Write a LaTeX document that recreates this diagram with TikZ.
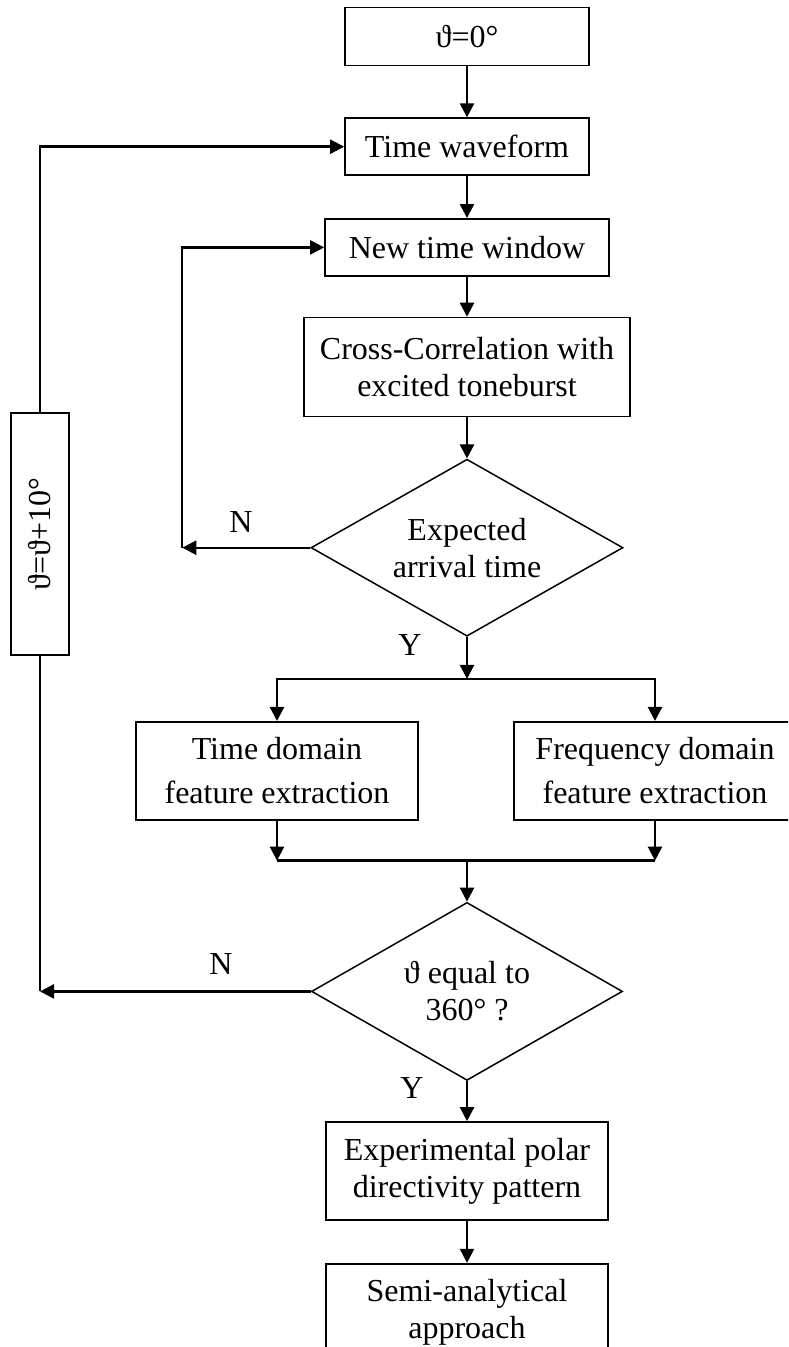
\documentclass[tikz,border=0pt]{standalone}
\usepackage{fontspec}
\setmainfont{Liberation Serif}
\usetikzlibrary{positioning,shapes.geometric,arrows.meta}

\begin{document}
\begin{tikzpicture}[x=0.5pt,y=-0.5pt]
% STYLES
\tikzset{%
    stage/.style={%
        rectangle,draw,line width=0.85pt,align=center,inner sep=2pt,
        minimum width=141pt,minimum height=49pt,
        font=\fontsize{16pt}{18.5pt}\selectfont
    },
    feature/.style={stage,font=\fontsize{16pt}{22pt}\selectfont},
    decision/.style={%
        diamond,draw,line width=0.75pt,align=center,inner sep=0pt,aspect=1.76,
        minimum width=156pt,minimum height=88.5pt,
        font=\fontsize{16pt}{18.5pt}\selectfont
    },
    answer/.style={font=\fontsize{16pt}{18.5pt}\selectfont,inner sep=0pt},
    link/.style={line width=1.2pt},
    >={Triangle[length=7pt,width=7pt]}
}
\useasboundingbox (0,0) rectangle (788,1347);
\clip (0,0) rectangle (788,1347);
% Draw steps
\node [stage, minimum width=122pt, minimum height=29pt] (start) at (467,36.5) {ϑ=0°};
\node [stage, minimum width=122pt, minimum height=28.5pt, below=25.5pt of start] (wave) {Time waveform};
\node [stage, minimum width=142pt, minimum height=28.5pt, below=21pt of wave] (window) {New time window};
\node [stage, minimum width=163pt, minimum height=49.5pt, below=20pt of window] (xcorr) {Cross-Correlation with\\excited toneburst};
\node [decision, below=20.5pt of xcorr] (arrival) {Expected\\arrival time};
\node [feature, below=42pt of arrival, xshift=-95pt] (tdom) {Time domain\\feature extraction};
\node [feature, below=42pt of arrival, xshift=94pt] (fdom) {Frequency domain\\feature extraction};
\node [decision, minimum width=155.5pt, minimum height=89pt, below=40.5pt of tdom, xshift=95pt] (full) {ϑ equal to\\360° ?};
\node [stage, below=20pt of full] (polar) {Experimental polar\\directivity pattern};
\node [stage, below=21pt of polar] (semi) {Semi-analytical\\approach};
\node [stage, rotate=90, minimum width=121pt, minimum height=29pt] (inc) at (40,534) {ϑ=ϑ+10°};
% Draw the answers
\node [answer] (arrN) at (241,522) {N};
\node [answer] (arrY) at (410,645) {Y};
\node [answer] (fullN) at (221,964) {N};
\node [answer] (fullY) at (412,1088) {Y};
% Helper points
\path (arrival.west) ++(-128,0) coordinate (innerL);
\path (full.west -| inc.center) coordinate (outerL);
\path (arrival.south) ++(0,42) coordinate (split);
\path (full.north) ++(0,-41) coordinate (merge);
% Draw the links between steps
\path[link,->]
    (start) edge (wave)
    (wave) edge (window)
    (window) edge (xcorr)
    (xcorr) edge (arrival)
    (full) edge (polar)
    (polar) edge (semi);
\draw[link,->] (arrival.west) -- (innerL);
\draw[link,->] (innerL) |- (window.west);
\draw[link,->] (arrival.south) -- (split);
\draw[link,->] (split) -| (tdom.north);
\draw[link,->] (split) -| (fdom.north);
\draw[link,->] (tdom.south) -- (tdom.south |- merge);
\draw[link,->] (fdom.south) -- (fdom.south |- merge);
\draw[link] (tdom.south |- merge) -- (fdom.south |- merge);
\draw[link,->] (merge) -- (full.north);
\draw[link,->] (full.west) -- (outerL);
\draw[link] (outerL) -- (inc.west);
\draw[link,->] (inc.east) |- (wave.west);
\end{tikzpicture}
\end{document}
